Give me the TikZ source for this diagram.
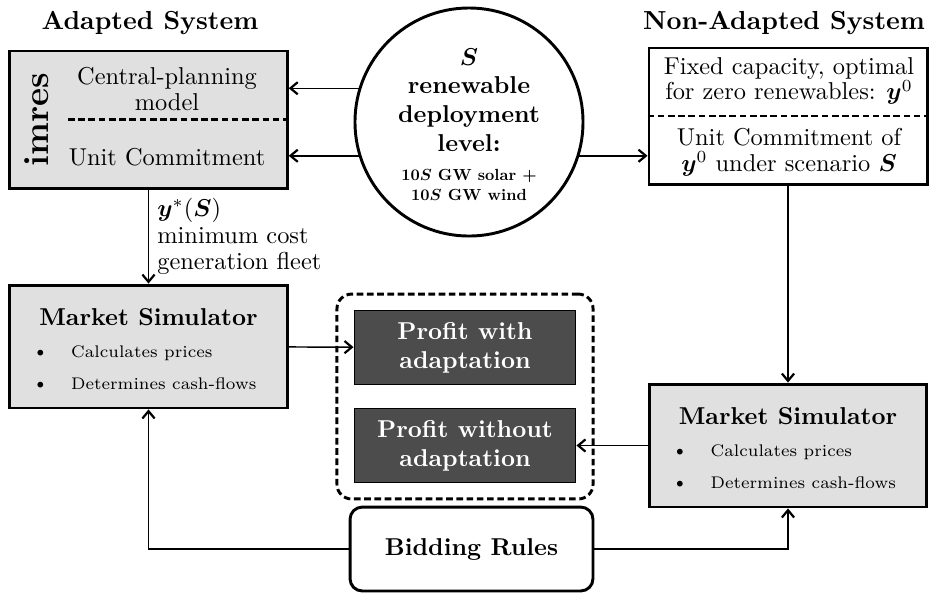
\documentclass[tikz,border=0pt]{standalone}
\usepackage{amsmath}
\usepackage{bm}
\usepackage{graphicx}
\usetikzlibrary{arrows.meta}
\begin{document}
\begin{tikzpicture}[x=0.41pt, y=-0.41pt,
	graybox/.style={draw, very thick, fill=black!12, minimum width=113.8pt},
	whitebox/.style={draw, very thick, fill=white, minimum width=114pt},
	darkbox/.style={draw, fill=black!70, text=white, font=\bfseries, align=center, minimum width=91pt, minimum height=30.5pt},
	divider/.style={very thick, dash pattern=on 2.7pt off 1.5pt},
	link/.style={semithick, -{Straight Barb[length=3pt, width=5pt, line width=0.9pt]}},
	boxtext/.style={font=\fontsize{10}{10.5}\selectfont, align=center},
	heading/.style={font=\bfseries\fontsize{10.7}{13}\selectfont, anchor=base},
	listtext/.style={font=\fontsize{6.9}{9}\selectfont, anchor=base west}]
	\useasboundingbox (0,0) rectangle (935,592);

	\node [heading] (adapted) at (150,29) {Adapted System};
	\node [heading] (nonadapted) at (784,29) {Non-Adapted System};

	\node [graybox, minimum height=56.2pt] (imres) at (148.5,119.5) {};
	\node [rotate=90, font=\Large\bfseries] (imreslabel) at (37,120) {imres};
	\node [boxtext] (cpm) at (167,89) {Central-planning\\model};
	\node [boxtext, anchor=base] (ucadapted) at (167,165) {Unit Commitment};
	\coordinate (divL) at (68,119.5);
	\draw [divider] (divL) -- (imres.east);

	\node [draw, very thick, circle, minimum size=93.5pt, inner sep=0pt] (level) at (469,122) {};
	\node [align=center, font=\bfseries\boldmath\fontsize{10}{11.8}\selectfont] (leveltext) at (469,100) {$S$\\renewable\\deployment\\level:};
	\node [align=center, font=\bfseries\boldmath\fontsize{10}{8.2}\selectfont] (levelgw) at (469,185) {\scalebox{0.66}{10$S$ GW solar $+$}\\\scalebox{0.66}{10$S$ GW wind}};

	\node [whitebox, minimum height=55.8pt] (fixed) at (788,116) {};
	\node [boxtext] (fixedtext) at (789,81) {Fixed capacity, optimal\\for zero renewables: $\bm{y}^0$};
	\node [boxtext] (ucfixed) at (789,152) {Unit Commitment of\\$\bm{y}^0$ under scenario $\bm{S}$};
	\draw [divider] (fixed.west) -- (fixed.east);

	\foreach \nm/\cx/\cy in {msadapted/148.5/346.5, msfixed/788/445.5}{
		\node [graybox, minimum height=50.4pt] (\nm) at (\cx,\cy) {};
		\node [anchor=base, font=\bfseries] (\nm-title) at (\cx,\cy-21) {Market Simulator};
		\node [anchor=base, font=\footnotesize] (\nm-dota) at (\cx-108,\cy+11) {\textbullet};
		\node [listtext] (\nm-prices) at (\cx-86,\cy+11) {Calculates prices};
		\node [anchor=base, font=\footnotesize] (\nm-dotb) at (\cx-108,\cy+43) {\textbullet};
		\node [listtext] (\nm-cash) at (\cx-86,\cy+43) {Determines cash-flows};
	}

	\node [darkbox] (withadapt) at (465,347.5) {Profit with\\adaptation};
	\node [darkbox] (withoutadapt) at (465,445.5) {Profit without\\adaptation};
	\node [draw, divider, rounded corners=6pt, minimum width=105pt, minimum height=84pt] (profits) at (465,396.5) {};

	\node [draw, very thick, rounded corners=5pt, minimum width=99.6pt, minimum height=34.4pt, font=\bfseries] (bidding) at (471.5,549) {Bidding Rules};

	\draw [link] (level.163) -- (level.163 -| imres.east);
	\draw [link] (level.197) -- (level.197 -| imres.east);
	\draw [link] (level.-17) -- (level.-17 -| fixed.west);
	\draw [link] (imres) -- (msadapted) node [midway, right, align=left, font=\fontsize{10}{10.8}\selectfont] {$\bm{y}^*(\bm{S})$\\minimum cost\\generation fleet};
	\draw [link] (fixed) -- (msfixed);
	\draw [link] (msadapted) -- (withadapt);
	\draw [link] (msfixed) -- (withoutadapt);
	\draw [link] (bidding) -| (msadapted);
	\draw [link] (bidding) -| (msfixed);
\end{tikzpicture}
\end{document}
